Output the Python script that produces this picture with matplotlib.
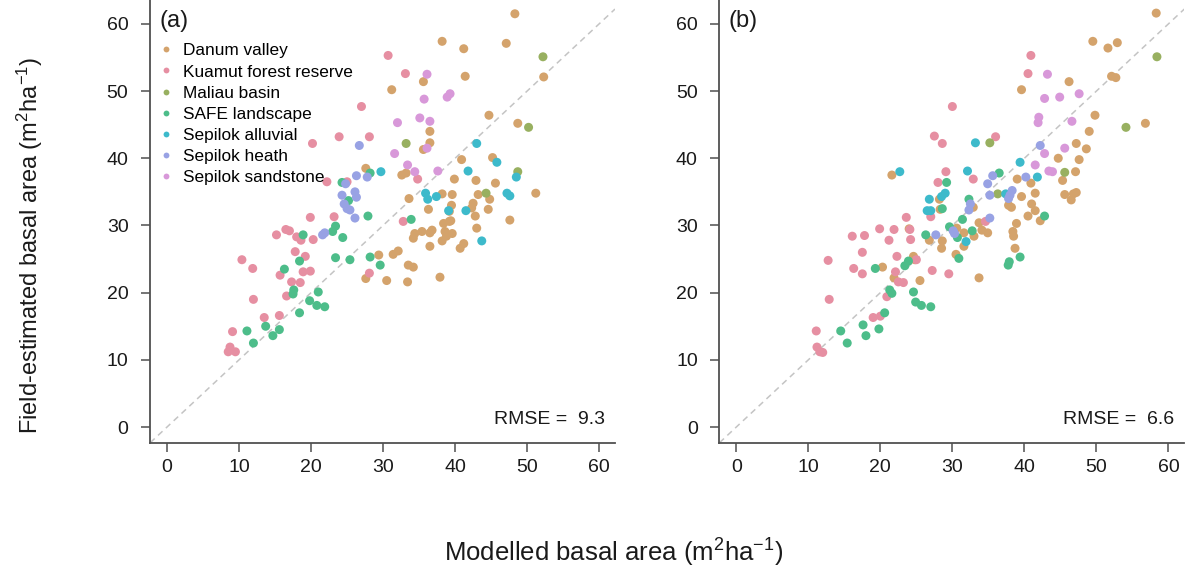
import matplotlib
matplotlib.use("Agg")
import matplotlib.pyplot as plt
from matplotlib.lines import Line2D

plt.rcParams['font.family'] = ['Liberation Sans', 'DejaVu Sans']
plt.rcParams['mathtext.fontset'] = 'custom'
plt.rcParams['mathtext.rm'] = 'Liberation Sans'
plt.rcParams['mathtext.it'] = 'Liberation Sans'

# ---------------- data ----------------
sites = ["Danum valley", "Kuamut forest reserve", "Maliau basin", "SAFE landscape",
         "Sepilok alluvial", "Sepilok heath", "Sepilok sandstone"]
colors = ["#D4A36C", "#E68FA2", "#98B060", "#4DBD8A", "#3DBACB", "#98A2E4", "#D898D9"]

# panel (a): (modelled, field) pairs
a_danum = [(48.3, 61.5), (38.2, 57.4), (47.1, 57.1), (41.2, 56.3), (35.6, 51.4), (41.4, 52.2),
           (52.3, 52.1), (31.2, 50.2), (44.7, 46.4), (48.7, 45.2), (36.5, 44.0), (36.5, 42.3),
           (35.6, 41.3), (27.6, 38.5), (32.6, 37.5), (33.2, 37.8), (40.9, 39.8), (45.2, 40.1),
           (39.9, 36.9), (42.9, 36.7), (45.6, 36.3), (33.6, 34.0), (38.2, 34.7), (39.6, 34.6),
           (43.2, 34.6), (44.8, 33.9), (51.2, 34.8), (42.5, 33.3), (42.3, 32.6), (36.3, 32.4),
           (39.5, 33.0), (39.2, 32.1), (42.8, 31.4), (44.6, 32.4), (47.6, 30.8), (43.0, 29.6),
           (38.4, 30.3), (39.2, 30.6), (39.4, 30.7), (36.8, 29.3), (36.5, 28.9), (34.4, 28.8),
           (35.4, 29.1), (34.2, 28.1), (38.6, 29.1), (39.6, 28.8), (38.8, 28.4), (38.2, 27.7),
           (36.5, 26.9), (41.2, 27.3), (40.7, 26.6), (29.4, 25.6), (31.4, 25.7), (32.1, 26.2),
           (33.5, 24.1), (34.2, 23.8), (27.6, 22.1), (30.5, 21.8), (33.4, 21.6), (37.9, 22.3)]
a_kuamut = [(30.7, 55.3), (33.1, 52.6), (27.0, 47.7), (23.9, 43.2), (28.1, 43.2), (20.2, 42.2),
            (22.2, 36.5), (25.0, 36.5), (23.2, 31.3), (19.9, 31.2), (34.8, 36.9), (16.5, 29.4),
            (17.0, 29.2), (15.2, 28.6), (18.0, 28.3), (18.6, 27.8), (20.3, 27.9), (17.8, 26.1),
            (19.2, 25.4), (10.4, 24.9), (11.9, 23.6), (15.7, 22.6), (18.9, 23.1), (19.9, 23.2),
            (18.5, 21.5), (17.3, 21.6), (16.6, 19.5), (12.0, 19.0), (13.5, 16.3), (15.6, 16.6),
            (9.1, 14.2), (8.75, 11.9), (8.5, 11.2), (9.5, 11.2), (32.8, 30.6), (28.1, 22.9)]
a_maliau = [(52.2, 55.1), (33.2, 42.2), (50.2, 44.6), (48.7, 38.0), (44.3, 34.8)]
a_safe = [(28.2, 37.8), (24.3, 36.4), (25.2, 33.7), (27.9, 31.4), (23.4, 29.9), (23.0, 29.1),
          (24.4, 28.2), (18.9, 28.6), (18.4, 24.7), (23.4, 25.2), (25.4, 24.9), (17.6, 20.4),
          (17.5, 19.8), (21.0, 20.1), (19.8, 18.8), (20.8, 18.1), (21.9, 17.9), (18.4, 17.0),
          (28.2, 25.3), (29.6, 24.1), (33.9, 30.9), (16.3, 23.5), (11.1, 14.3), (13.7, 15.0),
          (15.6, 14.5), (14.7, 13.6), (12.0, 12.5)]
a_alluvial = [(29.7, 38.0), (43.0, 42.2), (41.8, 38.1), (45.8, 39.4), (48.5, 37.2), (47.2, 34.8),
              (47.6, 34.4), (35.9, 34.8), (36.2, 33.9), (37.4, 34.3), (39.1, 32.2), (41.5, 32.2),
              (43.7, 27.7)]
a_heath = [(26.7, 41.9), (26.3, 37.4), (27.8, 37.2), (24.8, 36.2), (26.1, 35.0), (24.3, 34.5),
           (26.3, 34.2), (24.6, 33.2), (25.0, 32.5), (25.4, 32.3), (26.1, 31.1), (21.9, 28.9),
           (21.6, 28.6)]
a_sandstone = [(36.1, 52.5), (39.3, 49.6), (38.9, 49.1), (35.7, 48.8), (35.1, 46.0), (36.5, 45.5),
               (32.0, 45.3), (36.1, 41.5), (31.6, 40.7), (33.4, 39.0), (34.4, 38.0), (37.6, 38.1)]

# panel (b)
b_danum = [(58.3, 61.6), (49.5, 57.4), (51.6, 56.4), (52.9, 57.2), (46.2, 51.4), (52.1, 52.2),
           (52.7, 52.0), (39.6, 50.2), (49.8, 46.4), (56.8, 45.2), (49.0, 44.0), (47.2, 42.2),
           (48.6, 41.4), (44.7, 40.0), (47.6, 39.8), (47.1, 38.0), (45.3, 36.7), (39.0, 36.9),
           (40.9, 36.3), (21.6, 37.5), (39.6, 34.3), (41.5, 34.8), (45.6, 34.6), (46.8, 34.7),
           (47.2, 34.9), (46.5, 33.8), (37.8, 33.0), (38.2, 32.7), (41.0, 33.2), (41.5, 32.2),
           (40.5, 31.4), (42.2, 30.7), (38.9, 30.3), (38.4, 29.1), (38.5, 28.4), (38.7, 26.6),
           (33.7, 22.2), (28.2, 33.9), (28.3, 32.4), (32.9, 32.7), (33.7, 30.4), (34.1, 29.3),
           (34.9, 28.9), (31.6, 28.9), (33.0, 28.4), (30.6, 29.6), (31.6, 26.9), (26.8, 27.8),
           (28.6, 27.7), (28.5, 26.6), (24.0, 29.5), (24.6, 25.4), (24.8, 24.9), (30.5, 25.7),
           (20.3, 23.8), (21.9, 22.2), (25.5, 21.8)]
b_kuamut = [(40.9, 55.3), (40.5, 52.6), (30.0, 47.7), (27.5, 43.3), (28.6, 42.2), (36.0, 43.2),
            (29.1, 38.0), (28.0, 36.4), (32.9, 36.9), (27.0, 31.3), (23.6, 31.2), (19.9, 29.5),
            (21.9, 29.4), (24.1, 29.4), (24.2, 27.9), (21.2, 27.8), (17.8, 28.5), (16.1, 28.4),
            (17.5, 26.0), (22.3, 25.4), (25.0, 24.9), (34.6, 30.6), (17.5, 22.8), (16.3, 23.6),
            (22.1, 23.1), (22.5, 21.6), (23.2, 21.5), (27.2, 23.3), (29.5, 22.8), (12.75, 24.8),
            (12.9, 19.0), (20.9, 19.4), (19.0, 16.3), (20.0, 16.5), (11.1, 14.3), (11.2, 11.9),
            (11.6, 11.2), (12.0, 11.1)]
b_maliau = [(58.4, 55.1), (35.2, 42.3), (54.1, 44.6), (45.6, 37.9), (36.3, 34.7)]
b_safe = [(29.2, 36.4), (28.6, 32.5), (36.5, 37.8), (42.8, 31.4), (37.9, 24.6), (37.75, 24.1),
          (39.4, 25.3), (32.3, 33.9), (31.4, 30.9), (32.75, 29.2), (29.6, 29.8), (30.7, 28.2),
          (26.3, 28.6), (30.9, 25.1), (23.9, 24.7), (23.4, 24.0), (19.3, 23.6), (21.3, 20.4),
          (21.6, 19.9), (24.6, 20.1), (24.9, 18.6), (25.7, 18.1), (27.0, 17.9), (20.6, 17.0),
          (17.6, 15.2), (19.8, 14.6), (14.5, 14.3), (18.0, 13.6), (15.4, 12.5)]
b_alluvial = [(22.7, 38.0), (29.0, 34.8), (28.5, 34.3), (26.8, 33.9), (26.5, 32.2), (27.0, 32.2),
              (33.2, 42.3), (39.4, 39.4), (41.8, 37.2), (32.1, 38.1), (37.4, 34.7), (31.9, 27.6)]
b_heath = [(42.2, 41.9), (40.2, 37.2), (35.6, 37.4), (34.9, 36.2), (35.2, 34.5), (38.3, 35.2),
           (38.0, 34.5), (37.8, 34.0), (32.5, 33.2), (32.3, 32.3), (35.2, 31.1), (30.1, 29.2),
           (30.3, 28.8), (27.7, 28.6)]
b_sandstone = [(43.2, 52.5), (42.8, 48.9), (44.9, 49.1), (47.6, 49.6), (42.0, 46.1), (41.9, 45.3),
               (46.6, 45.5), (45.6, 41.5), (42.8, 40.7), (41.5, 39.0), (43.4, 38.1), (43.9, 38.0)]

panel_a = [a_danum, a_kuamut, a_maliau, a_safe, a_alluvial, a_heath, a_sandstone]
panel_b = [b_danum, b_kuamut, b_maliau, b_safe, b_alluvial, b_heath, b_sandstone]
panel_tags = ["(a)", "(b)"]
rmse_vals = [9.3, 6.6]
ticks = [0, 10, 20, 30, 40, 50, 60]

# ---------------- figure ----------------
W, H = 1190, 571
fig = plt.figure(figsize=(W / 100, H / 100), dpi=100)

ax_w = 465 / W
ax_h = 442.7 / H
ax_b = (H - 442.7) / H
axes = [fig.add_axes([150 / W, ax_b, ax_w, ax_h]),
        fig.add_axes([719.3 / W, ax_b, ax_w, ax_h])]

xlim = (-2.36, 62.2)
ylim = (-2.33, 63.55)

for ax, data, tag, rmse in zip(axes, [panel_a, panel_b], panel_tags, rmse_vals):
    ax.set_xlim(*xlim)
    ax.set_ylim(*ylim)
    ax.axline((0, 0), (1, 1), color="#C4C4C4", lw=1.1, ls=(0, (4, 3)), zorder=1)
    for pts, col in zip(data, colors):
        xs = [p[0] for p in pts]
        ys = [p[1] for p in pts]
        ax.scatter(xs, ys, s=42, color=col, edgecolors='none', zorder=3)
    for side in ['top', 'right']:
        ax.spines[side].set_visible(False)
    for side in ['left', 'bottom']:
        ax.spines[side].set_color('#505050')
        ax.spines[side].set_linewidth(1.3)
    ax.set_xticks(ticks)
    ax.set_yticks(ticks)
    ax.tick_params(direction='out', length=6.5, width=1.1, color='#505050',
                   labelsize=14, labelcolor='#1a1a1a')
    ax.tick_params(axis='x', pad=5)
    ax.tick_params(axis='y', pad=9)
    ax.text(-1.1, 60.4, tag, fontsize=17, ha='left', va='center', color='#1a1a1a')
    ax.text(60.8, 1.15, "RMSE =  %.1f" % rmse, fontsize=14, ha='right', va='center',
            color='#1a1a1a')

handles = [Line2D([0], [0], marker='o', ls='none', markersize=4.2,
                  markerfacecolor=c, markeredgecolor='none') for c in colors]
axes[0].legend(handles, sites, loc='upper left', bbox_to_anchor=(0.02, 0.902),
               frameon=False, fontsize=12.4, handlelength=0.8, handletextpad=0.55,
               labelspacing=0.35, borderpad=0, borderaxespad=0)

fig.text(614 / W, 1 - 553 / H, r"Modelled basal area (m$^{2}$ha$^{-1}$)",
         fontsize=18.5, ha='center', va='center', color='#1a1a1a')
fig.text(30 / W, 1 - 245 / H, r"Field-estimated basal area (m$^{2}$ha$^{-1}$)",
         fontsize=17, ha='center', va='center', rotation=90, color='#1a1a1a')

fig.savefig("out.png", dpi=100)
